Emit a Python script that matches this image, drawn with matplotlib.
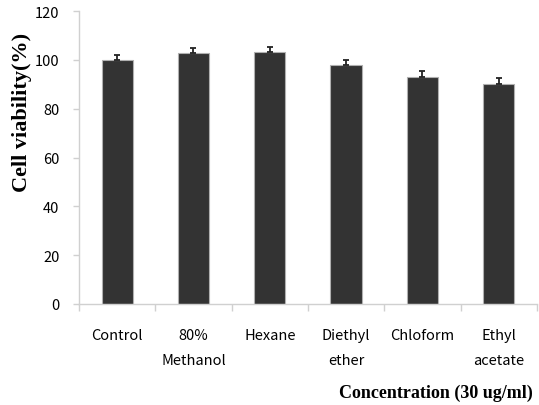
import numpy as np
import matplotlib.pyplot as plt
from matplotlib.ticker import FixedLocator, NullFormatter

# Cell viability per solvent fraction (30 ug/ml)
groups = ['Control', '80%\nMethanol', 'Hexane', 'Diethyl\nether', 'Chloform', 'Ethyl\nacetate']
viability = [100.0, 102.7, 103.1, 97.7, 92.8, 90.3]
sd = [1.8, 2.2, 2.3, 2.4, 2.5, 2.4]
yticks = [0, 20, 40, 60, 80, 100, 120]

tick_font = 'Noto Sans CJK KR'
title_font = 'Liberation Serif'

fig = plt.figure(figsize=(5.39, 4.06), dpi=100)
ax = fig.add_axes([0.1466, 0.2488, 0.8494, 0.7216])

x = np.arange(len(groups))
ax.bar(x, viability, width=0.41, color='#333333', edgecolor='#b0b0b0', linewidth=0.8, zorder=2)
ax.errorbar(x, viability, yerr=[np.zeros(len(sd)), sd], fmt='none', ecolor='#222222',
            elinewidth=1.3, capsize=2.5, capthick=1.3, zorder=3)

ax.set_xlim(-0.5, len(groups) - 0.5)
ax.set_ylim(0, 120)
ax.set_yticks(yticks)
ax.set_yticklabels([str(v) for v in yticks], fontfamily=tick_font, fontsize=10.5)

# tick marks sit between categories, labels sit under the bars
ax.xaxis.set_major_locator(FixedLocator(np.arange(len(groups) + 1) - 0.5))
ax.xaxis.set_major_formatter(NullFormatter())
ax.xaxis.set_minor_locator(FixedLocator(x))
ax.set_xticklabels(groups, minor=True, fontfamily=tick_font, fontsize=10.5, linespacing=2.05, va='top')
ax.tick_params(axis='x', which='major', length=5, color='#d0d0d0', width=1)
ax.tick_params(axis='x', which='minor', length=0, pad=17)
ax.tick_params(axis='y', length=4, color='#d0d0d0', width=1, pad=10)

for side in ['top', 'right']:
    ax.spines[side].set_visible(False)
for side in ['left', 'bottom']:
    ax.spines[side].set_color('#d0d0d0')
    ax.spines[side].set_linewidth(1)

fig.text(0.041, 0.722, 'Cell viability(%)', rotation=90, ha='center', va='center',
         fontfamily=title_font, fontweight='bold', fontsize=16)
fig.text(0.988, 0.032, 'Concentration (30 ug/ml)', ha='right', va='center',
         fontfamily=title_font, fontweight='bold', fontsize=13)

fig.savefig('out.png', dpi=100)
